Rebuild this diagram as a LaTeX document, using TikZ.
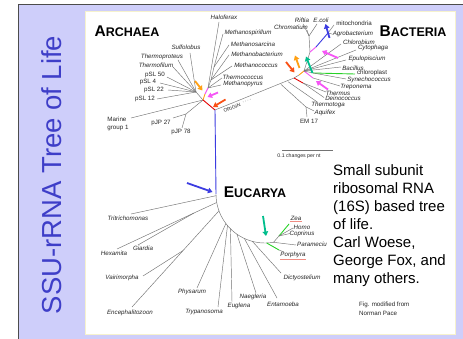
\documentclass[tikz,border=0pt]{standalone}
\usepackage{fontspec}
\setmainfont{Liberation Sans}
\usetikzlibrary{arrows.meta}
\definecolor{panel}{RGB}{206,206,250}
\definecolor{titleblue}{RGB}{62,62,200}
\definecolor{boxedge}{RGB}{246,242,205}
\definecolor{arrorange}{RGB}{255,160,20}
\definecolor{arrpink}{RGB}{245,85,245}
\definecolor{arrred}{RGB}{250,80,20}
\definecolor{arrteal}{RGB}{0,190,140}
\definecolor{arrblue}{RGB}{60,60,225}
\definecolor{leafgreen}{RGB}{40,210,40}
\definecolor{squiggle}{RGB}{240,140,130}
\begin{document}
\begin{tikzpicture}[x=1pt,y=-1pt,
  lab/.style={font=\fontsize{6.2}{6.2}\selectfont\itshape, text=black!85, inner sep=0pt},
  ulab/.style={font=\fontsize{6.2}{7.6}\selectfont, text=black!85, inner sep=0pt},
  br/.style={draw=black!55, line width=0.45pt},
  arw/.style={-{Triangle[length=4.5pt,width=5.5pt]}, line width=1.8pt},
  head/.style={font=\bfseries\fontsize{12.5}{12.5}\selectfont, inner sep=0pt}]
\useasboundingbox (0,0) rectangle (463,339);
% slide background
\fill[white] (0,0) rectangle (463,339);
\fill[panel] (18,4) rectangle (463,339);
\draw[black!70, line width=0.8pt] (18,339) -- (18,4) -- (463,4);
\draw[boxedge, fill=white, line width=0.8pt] (85,11) rectangle (455,334);

% vertical title
\node[rotate=90, inner sep=0pt, font=\fontsize{27.5}{27.5}\selectfont, text=titleblue] (title) at (52,175) {SSU-rRNA Tree of Life};

% domain headings
\node[head] (archaea) at (127,31) {{\fontsize{15.5}{15.5}\selectfont A}RCHAEA};
\node[head] (bacteria) at (413,31.5) {{\fontsize{15.5}{15.5}\selectfont B}ACTERIA};
\node[head] (eucarya) at (255,192.5) {{\fontsize{15.5}{15.5}\selectfont E}UCARYA};

% ---------------- Archaea ----------------
\coordinate (O) at (215,110);
\coordinate (RA) at (203,100);
\coordinate (CR) at (196,92);
\coordinate (EA1) at (205,94);
\coordinate (EA2) at (208,88);
\coordinate (MS) at (211,80);
\coordinate (MS2) at (214,67);
\coordinate (tHalo) at (219,22);
\coordinate (tMspir) at (223,34);
\coordinate (tMsarc) at (229,45);
\coordinate (tMbact) at (229,55);
\coordinate (tMcocc) at (232,66);
\coordinate (tTcocc) at (222,78);
\coordinate (tMpyr) at (221,85);
\coordinate (tSulf) at (190,53);
\coordinate (tTprot) at (178,60);
\coordinate (tTfil) at (173,67);
\coordinate (tP50) at (167,77);
\coordinate (tP4) at (160,83);
\coordinate (tP22) at (168,90);
\coordinate (tP12) at (157,99);
\coordinate (tMarine) at (131,118);
\coordinate (PJ) at (186,114);
\coordinate (tJ27) at (173,118);
\coordinate (tJ78) at (182,128);

\node[lab] (halo) at (224,17) {Haloferax};
\node[lab] (mspir) at (248,33) {Methanospirillum};
\node[lab] (msarc) at (253,44) {Methanosarcina};
\node[lab] (mbact) at (257,54) {Methanobacterium};
\node[lab] (mcocc) at (256,65) {Methanococcus};
\node[lab] (tcocc) at (243,77) {Thermococcus};
\node[lab] (mpyr) at (243,84) {Methanopyrus};
\node[lab] (sulf) at (186,47) {Sulfolobus};
\node[lab] (tprot) at (162,57) {Thermoproteus};
\node[lab] (tfil) at (156,65) {Thermofilum};
\node[ulab] (psl50) at (155,75) {pSL 50};
\node[ulab] (psl4) at (148,82) {pSL 4};
\node[ulab] (psl22) at (154,90) {pSL 22};
\node[ulab] (psl12) at (145,99) {pSL 12};
\node[ulab, align=left] (marine) at (118,124) {Marine\\group 1};
\node[ulab] (pjp27) at (161,123) {pJP 27};
\node[ulab] (pjp78) at (181,132) {pJP 78};

\draw[br] (RA) -- (CR);
\foreach \t in {tSulf,tTprot,tTfil,tP50,tP4,tP22,tP12} \draw[br] (CR) -- (\t);
\draw[br] (RA) -- (tMarine);
\draw[br] (RA) -- (PJ);
\draw[br] (PJ) -- (tJ27);
\draw[br] (PJ) -- (tJ78);
\draw[arrorange, line width=0.9pt] (RA) -- (EA1);
\draw[arrpink, line width=0.9pt] (EA1) -- (EA2);
\draw[br] (EA2) -- (tHalo);
\draw[br] (EA2) -- (MS);
\draw[br] (MS) -- (tMbact);
\draw[br] (MS) -- (tMcocc);
\draw[br] (MS) -- (MS2);
\draw[br] (MS2) -- (tMspir);
\draw[br] (MS2) -- (tMsarc);
\draw[br] (EA2) -- (tTcocc);
\draw[br] (EA2) -- (tMpyr);
\draw[red!90!black, line width=0.9pt] (RA) -- (O);

% archaeal arrows
\coordinate (aoT) at (195,81); \coordinate (aoH) at (202.5,90.5);
\coordinate (apT) at (218,92.5); \coordinate (apH) at (207.5,97);
\coordinate (arT) at (225.5,99.5); \coordinate (arH) at (213,107);
\draw[arw, arrorange] (aoT) -- (aoH);
\draw[arw, arrpink] (apT) -- (apH);
\draw[arw, arrred] (arT) -- (arH);

% ---------------- Origin ----------------
\coordinate (RB) at (294,78);
\draw[br] (O) -- (RB);
\node[ulab, font=\fontsize{5}{5}\selectfont, rotate=21] (origin) at (232,108) {ORIGIN};
\coordinate (dotA) at (243,102); \coordinate (dotB) at (252,98.5);
\draw[black!55, line width=0.5pt, dotted] (dotA) -- (dotB);

% ---------------- Bacteria ----------------
\coordinate (BS0) at (299,75);
\coordinate (BS) at (304,71);
\coordinate (TD) at (303,83);
\coordinate (AB) at (281,84.4);
\coordinate (AJ) at (306,107);
\coordinate (TB) at (288,81.7);
\coordinate (CG) at (313,73);
\coordinate (TP) at (313,78);
\coordinate (PB1) at (310,52);
\coordinate (PG) at (309,36);
\coordinate (PA) at (316,47);
\coordinate (PA2) at (328,33);
\coordinate (tRift) at (303,24);
\coordinate (tEcoli) at (317,24);
\coordinate (tChrom) at (307,30);
\coordinate (tMito) at (334,25);
\coordinate (tAgro) at (332,34);
\coordinate (tChlb) at (341,44);
\coordinate (tCyto) at (356,50);
\coordinate (tEpul) at (346,60);
\coordinate (tBacil) at (341,67);
\coordinate (tChlp) at (355,74);
\coordinate (tSyn) at (346,79);
\coordinate (tTrep) at (340,86);
\coordinate (tTherm) at (326,92);
\coordinate (tDein) at (324,97.5);
\coordinate (tTmtg) at (318,102.5);
\coordinate (tAqu) at (314,111);
\coordinate (tEM) at (307,117);

\node[lab] (riftia) at (302,20) {Riftia};
\node[lab] (ecoli) at (321,20) {E.coli};
\node[lab] (chrom) at (291,27) {Chromatium};
\node[ulab] (mito) at (354,23) {mitochondria};
\node[lab] (agro) at (353,34) {Agrobacterium};
\node[lab] (chlb) at (359,42) {Chlorobium};
\node[lab] (cyto) at (373,48) {Cytophaga};
\node[lab] (epul) at (367,59) {Epulopiscium};
\node[lab] (bacil) at (353,68) {Bacillus};
\node[ulab] (chlp) at (372,73) {chloroplast};
\node[lab] (syn) at (369,80) {Synechococcus};
\node[lab] (trep) at (356,87) {Treponema};
\node[lab] (therm) at (338,92.8) {Thermus};
\node[lab] (dein) at (343,98.3) {Deinococcus};
\node[lab] (tmtg) at (328,105) {Thermotoga};
\node[lab] (aqu) at (325,113.3) {Aquifex};
\node[ulab] (em17) at (309,121.3) {EM 17};

\draw[br] (RB) -- (BS0);
\draw[arrorange, line width=0.9pt] (BS0) -- (BS);
\draw[red!90!black, line width=0.9pt] (RB) -- (TD);
\draw[br] (TD) -- (tTherm);
\draw[br] (TD) -- (tDein);
\draw[br] (AB) -- (AJ);
\draw[br] (AJ) -- (tAqu);
\draw[br] (AJ) -- (tEM);
\draw[br] (TB) -- (tTmtg);
\draw[arrpink, line width=0.9pt] (BS) -- (TP);
\draw[br] (TP) -- (tTrep);
\draw[br] (BS) -- (CG);
\draw[leafgreen, line width=0.9pt] (CG) -- (tChlp);
\draw[br] (CG) -- (tSyn);
\draw[br] (BS) -- (tBacil);
\draw[br] (BS) -- (tEpul);
\draw[br] (BS) -- (tCyto);
\draw[br] (BS) -- (tChlb);
\draw[br] (BS) -- (PB1);
\draw[br] (PB1) -- (PG);
\draw[br] (PG) -- (tRift);
\draw[br] (PG) -- (tEcoli);
\draw[br] (PG) -- (tChrom);
\draw[arrpink, line width=0.9pt] (PB1) -- (PA);
\draw[arrblue, line width=0.9pt] (PA) -- (PA2);
\draw[br] (PA2) -- (tMito);
\draw[br] (PA2) -- (tAgro);

% bacterial arrows
\coordinate (bbT) at (329.5,38); \coordinate (bbH) at (325.5,24);
\coordinate (bpT) at (338,58); \coordinate (bpH) at (322,51);
\coordinate (bqT) at (328,89.5); \coordinate (bqH) at (316,81);
\coordinate (btT) at (312.5,73); \coordinate (btH) at (306,56.5);
\coordinate (boT) at (299.5,68); \coordinate (boH) at (295,55.5);
\coordinate (brT) at (286,62); \coordinate (brH) at (294.5,72.5);
\draw[arw, arrblue] (bbT) -- (bbH);
\draw[arw, arrpink] (bpT) -- (bpH);
\draw[arw, arrpink] (bqT) -- (bqH);
\draw[arw, arrteal] (btT) -- (btH);
\draw[arw, arrorange] (boT) -- (boH);
\draw[arw, arrred] (brT) -- (brH);

% scale bar
\coordinate (sbA) at (282,150); \coordinate (sbB) at (333,150);
\draw[black!55, line width=0.5pt] (sbA) -- (sbB);
\node[ulab, font=\fontsize{5.2}{5.2}\selectfont] (scale) at (299,156) {0.1 changes per nt};

% ---------------- Eucarya ----------------
\coordinate (ET) at (216,194);
\draw[arrblue, line width=0.9pt] (O) -- (ET);
\draw[br] plot[domain=180:80, samples=50] ({265+49*cos(\x)},{194+49*sin(\x)});

\coordinate (bTri) at (216,195.7);
\coordinate (bHG) at (216.7,202.5);
\coordinate (bEnc) at (219,210.8);
\coordinate (bPhy) at (225.9,223.5);
\coordinate (bTry) at (227.5,225.5);
\coordinate (bEug) at (230.4,228.6);
\coordinate (bNae) at (236.9,234.1);
\coordinate (bEnt) at (244.3,238.4);
\coordinate (bDic) at (252.3,241.3);
\coordinate (bPor) at (266.7,243);
\coordinate (K) at (273.5,242.3);
\coordinate (K2) at (279,236);
\coordinate (HG) at (194,213);
\coordinate (VJ) at (183,250.6);
\coordinate (tTri) at (131,214);
\coordinate (tHex) at (117,249);
\coordinate (tGia) at (138,245);
\coordinate (tEnc) at (132,307);
\coordinate (tVai) at (143,276);
\coordinate (tPhy) at (197,288);
\coordinate (tTry) at (218,307);
\coordinate (tEug) at (232,302);
\coordinate (tNae) at (256,293);
\coordinate (tEnt) at (277,298);
\coordinate (tDic) at (281,273);
\coordinate (tZea) at (289,224);
\coordinate (tHomo) at (293,228);
\coordinate (tCopr) at (290,233.5);
\coordinate (tPara) at (296,245);
\coordinate (gPor) at (279,250);
\coordinate (tPor) at (284,252);

\node[lab] (tritr) at (128,218) {Tritrichomonas};
\node[lab] (hexa) at (114,253) {Hexamita};
\node[lab] (giar) at (143,248) {Giardia};
\node[lab] (vair) at (122,278) {Vairimorpha};
\node[lab] (ence) at (130,313) {Encephalitozoon};
\node[lab] (phys) at (192,292) {Physarum};
\node[lab] (tryp) at (204,312) {Trypanosoma};
\node[lab] (eugl) at (239,306) {Euglena};
\node[lab] (naeg) at (253,297) {Naegleria};
\node[lab] (enta) at (283,304) {Entamoeba};
\node[lab] (dict) at (302,278) {Dictyostelium};
\node[lab] (zea) at (296,218) {Zea};
\node[lab] (homo) at (302,227) {Homo};
\node[lab] (copr) at (302,234) {Coprinus};
\node[lab, anchor=west] (para) at (297,244.5) {Parameciu};
\node[lab] (porph) at (293,255) {Porphyra};
\draw[squiggle, line width=0.5pt] ([yshift=-1.3pt]zea.south west) -- ([yshift=-1.3pt]zea.south east);
\draw[squiggle, line width=0.5pt] ([yshift=-1.3pt]porph.south west) -- ([yshift=-1.3pt]porph.south east);

\draw[br] (bTri) -- (tTri);
\draw[br] (bHG) -- (HG);
\draw[br] (HG) -- (tHex);
\draw[br] (HG) -- (tGia);
\draw[br] (bEnc) -- (tEnc);
\draw[br] (VJ) -- (tVai);
\draw[br] (bPhy) -- (tPhy);
\draw[br] (bTry) -- (tTry);
\draw[br] (bEug) -- (tEug);
\draw[br] (bNae) -- (tNae);
\draw[br] (bEnt) -- (tEnt);
\draw[br] (bDic) -- (tDic);
\draw[br] (K) -- (K2);
\draw[leafgreen, line width=0.9pt] (K2) -- (tZea);
\draw[br] (K2) -- (tHomo);
\draw[br] (K2) -- (tCopr);
\draw[br] (K) -- (tPara);
\draw[leafgreen, line width=0.9pt] (bPor) -- (gPor);
\draw[br] (gPor) -- (tPor);

% eucaryal arrows
\coordinate (ebT) at (187,183); \coordinate (ebH) at (212.5,192);
\coordinate (etT) at (263,216); \coordinate (etH) at (266,236);
\draw[arw, arrblue] (ebT) -- (ebH);
\draw[arw, arrteal] (etT) -- (etH);

% caption
\node[anchor=north west, align=left, inner sep=0pt, font=\fontsize{15}{18}\selectfont] (caption) at (333,164)
  {Small subunit\\ribosomal RNA\\(16S) based tree\\of life.\\Carl Woese,\\George Fox, and\\many others.};
\node[anchor=north west, align=left, inner sep=0pt, font=\fontsize{6.2}{9.3}\selectfont, text=black!85] (credit) at (359,302)
  {Fig. modified from\\Norman Pace};
\end{tikzpicture}
\end{document}
